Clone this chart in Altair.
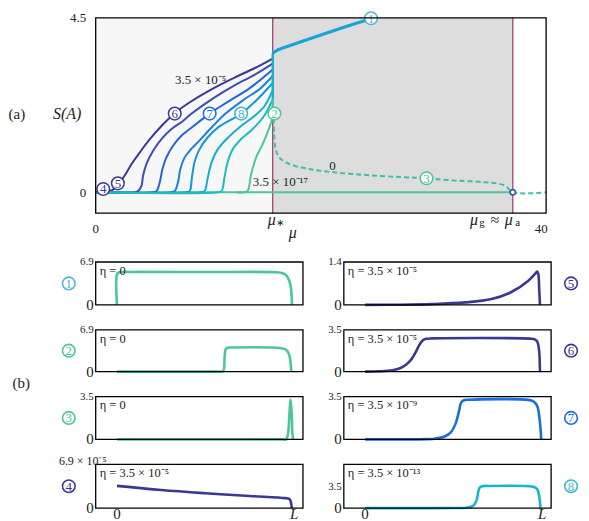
import altair as alt
import pandas as pd

FONT = "Liberation Serif"

# ---------------- top panel (a) data ----------------
mu_star = 15.72
mu_g = 37.04
mu_max = 40.0
s_merge = 3.59

curve_colors = ["#3b3894", "#3f4cb4", "#1f66d6", "#1b80da", "#1398d4", "#12aece", "#1cbcc0", "#4cc69e"]

c1_mu = [0.0, 1.0, 1.5, 2.0, 2.59, 3.19, 3.92, 4.81, 5.84, 7.02, 8.19, 10.56, 12.33, 14.10, 15.72]
c1_s = [0.0, 0.01, 0.06, 0.20, 0.44, 0.73, 1.03, 1.37, 1.71, 2.04, 2.29, 2.70, 2.96, 3.20, 3.45]
c2_mu = [0.0, 3.45, 3.77, 4.07, 4.21, 4.51, 5.10, 5.84, 6.73, 7.75, 8.52, 10.56, 12.33, 14.10, 15.72]
c2_s = [0.0, 0.0, 0.03, 0.17, 0.43, 0.73, 1.07, 1.37, 1.63, 1.84, 2.03, 2.45, 2.76, 3.03, 3.32]
c3_mu = [0.0, 5.1, 5.40, 5.69, 5.93, 6.28, 6.87, 7.61, 8.35, 10.12, 11.88, 13.65, 15.72]
c3_s = [0.0, 0.0, 0.03, 0.26, 0.60, 0.90, 1.20, 1.46, 1.63, 2.03, 2.36, 2.68, 3.17]
c4_mu = [0.0, 6.7, 7.02, 7.31, 7.52, 7.90, 8.35, 9.23, 10.29, 11.53, 13.21, 14.54, 15.72]
c4_s = [0.0, 0.0, 0.03, 0.26, 0.60, 0.90, 1.07, 1.34, 1.67, 2.03, 2.40, 2.66, 3.00]
c5_mu = [0.0, 8.0, 8.35, 8.55, 8.8, 9.2, 9.9, 10.9, 12.92, 14.36, 15.72]
c5_s = [0.0, 0.0, 0.03, 0.40, 0.80, 1.10, 1.40, 1.68, 2.03, 2.40, 2.82]
c6_mu = [0.0, 9.35, 9.67, 9.96, 10.29, 10.82, 11.71, 12.78, 14.10, 14.98, 15.72]
c6_s = [0.0, 0.0, 0.03, 0.39, 0.77, 1.10, 1.40, 1.68, 1.97, 2.22, 2.63]
c7_mu = [0.0, 10.85, 11.18, 11.44, 11.71, 12.15, 12.95, 13.83, 14.98, 15.72]
c7_s = [0.0, 0.0, 0.03, 0.39, 0.77, 1.10, 1.38, 1.60, 1.98, 2.40]
c8_mu = [12.5, 13.2, 13.5, 13.81, 14.25, 14.83, 15.42, 15.72]
c8_s = [0.0, 0.0, 0.04, 0.47, 0.90, 1.24, 1.67, 1.93]

branch1_mu = [15.72, 16.1, 16.6, 20.0, 24.2]
branch1_s = [3.59, 3.66, 3.72, 4.06, 4.46]

dash_mu = [15.8, 15.84, 15.95, 16.3, 17.19, 18.96, 21.33, 24.27, 27.22, 29.38, 31.95, 34.6, 36.37, 37.04, 40.0]
dash_s = [1.90, 1.55, 1.15, 0.90, 0.73, 0.60, 0.51, 0.44, 0.39, 0.36, 0.30, 0.26, 0.17, 0.0, 0.0]

circ_mu = [24.45, 15.87, 29.38, 0.67, 1.97, 7.02, 10.12, 12.92]
circ_s = [4.49, 2.03, 0.36, 0.085, 0.23, 2.03, 2.03, 2.03]
circ_txt = ["1", "2", "3", "4", "5", "6", "7", "8"]
circ_col = ["#4fb6d3", "#4cc49c", "#4cc49c", "#3b3894", "#3b3894", "#3b3894", "#1a6ee0", "#3db8cf"]

ann_mu = [9.32, 16.4, 21.03]
ann_s = [2.90, 0.26, 0.69]
ann_txt = ["3.5 × 10⁻⁵", "3.5 × 10⁻¹⁷", "0"]

W, H = 452, 196
XS = alt.Scale(domain=[0, mu_max], nice=False, zero=False)
YS = alt.Scale(domain=[-0.54, 4.5], nice=False, zero=False)
YAX = alt.Axis(values=[0, 4.5], format=".2~f", tickSize=0, domain=False, grid=False, labelPadding=10,
               labelFont=FONT, labelFontSize=13, labelColor="#222", title=None)
ONE = pd.DataFrame({"a": [0]})


def X(f="mu"):
    return alt.X(f"{f}:Q", scale=XS, axis=None)


def Y(f="S"):
    return alt.Y(f"{f}:Q", scale=YS, axis=YAX)


regions = pd.DataFrame({"a": [0.0, mu_star, mu_g], "b": [mu_star, mu_g, mu_max],
                        "c": ["#f7f7f7", "#dddddd", "#ffffff"]})
bg = alt.Chart(regions).mark_rect().encode(x=X("a"), x2="b:Q", y=alt.value(0), y2=alt.value(H),
                                           fill=alt.Fill("c:N", scale=None))
vlines = alt.Chart(pd.DataFrame({"mu": [mu_star, mu_g]})).mark_rule(color="#a3316b", strokeWidth=1.2).encode(
    x=X(), y=alt.value(0), y2=alt.value(H))

layers = [bg, vlines]

base_df = pd.DataFrame({"mu": [0.0, mu_g], "S": [0.0, 0.0]})
layers.append(alt.Chart(base_df).mark_line(color="#4cc69e", strokeWidth=2.2).encode(x=X(), y=Y()))


def curve(mus, ss, color, width=2.0, dash=None):
    d = pd.DataFrame({"mu": mus, "S": ss, "i": list(range(len(mus)))})
    kw = dict(color=color, strokeWidth=width, interpolate="catmull-rom")
    if dash:
        kw["strokeDash"] = dash
    return alt.Chart(d).mark_line(**kw).encode(x=X(), y=Y(), order="i:Q")


all_curves = [(c1_mu, c1_s), (c2_mu, c2_s), (c3_mu, c3_s), (c4_mu, c4_s), (c5_mu, c5_s),
              (c6_mu, c6_s), (c7_mu, c7_s), (c8_mu, c8_s)]
for (m, s), col in zip(all_curves, curve_colors):
    layers.append(curve(m, s, col))

vseg = pd.DataFrame({"mu": [mu_star, mu_star], "S": [c8_s[-1], c7_s[-1]], "S2": [c7_s[-1], s_merge],
                     "c": ["#4cc69e", "#14b0cc"]})
layers.append(alt.Chart(vseg).mark_rule(strokeWidth=2.4).encode(x=X(), y=Y(), y2="S2:Q",
                                                                 color=alt.Color("c:N", scale=None)))
layers.append(curve(branch1_mu, branch1_s, "#17a4d8", width=3.2))
layers.append(curve(dash_mu, dash_s, "#3cc0aa", width=2.0, dash=[5, 3]))

layers.append(alt.Chart(pd.DataFrame({"mu": [mu_g], "S": [0.0]})).mark_point(
    shape="circle", size=28, filled=True, fill="white", stroke="#3c64a0", strokeWidth=1.8, opacity=1).encode(
    x=X(), y=Y()))

cdf = pd.DataFrame({"mu": circ_mu, "S": circ_s, "t": circ_txt, "col": circ_col})
layers.append(alt.Chart(cdf).mark_point(shape="circle", size=160, filled=True, fill="white",
                                        strokeWidth=1.5, opacity=1).encode(
    x=X(), y=Y(), stroke=alt.Stroke("col:N", scale=None)))
layers.append(alt.Chart(cdf).mark_text(font=FONT, fontSize=13, baseline="middle", dy=0.5).encode(
    x=X(), y=Y(), text="t:N", color=alt.Color("col:N", scale=None)))

adf = pd.DataFrame({"mu": ann_mu, "S": ann_s, "t": ann_txt})
layers.append(alt.Chart(adf).mark_text(font=FONT, fontSize=13, baseline="middle", color="#222").encode(
    x=X(), y=Y(), text="t:N"))

layers.append(alt.Chart(ONE).mark_rect(fill="transparent", stroke="black", strokeWidth=1.3).encode(
    x=alt.value(0), x2=alt.value(W), y=alt.value(0), y2=alt.value(H)))

# x labels below the plot
xl = pd.DataFrame({"mu": [0.0, mu_max], "t": ["0", "40"], "dx": [0, -5]})
for _, r in xl.iterrows():
    layers.append(alt.Chart(pd.DataFrame({"mu": [r["mu"]], "t": [r["t"]]})).mark_text(
        font=FONT, fontSize=13, baseline="middle", color="#222", dx=float(r["dx"])).encode(
        x=X(), y=alt.value(H + 16), text="t:N"))
mu_pieces = pd.DataFrame({
    "mu": [mu_star, mu_star, mu_g, mu_g, mu_g, mu_g, mu_g, 17.49],
    "t": ["μ", "∗", "μ", "g", "≈", "μ", "a", "μ"],
    "dx": [-1, 7, -39, -31, -18, -4, 5, 0],
    "dy": [7, 10, 7, 10, 7, 7, 10, 20],
    "s": [16, 10, 16, 11, 16, 16, 11, 16],
})
for _, r in mu_pieces.iterrows():
    layers.append(alt.Chart(pd.DataFrame({"mu": [r["mu"]], "t": [r["t"]]})).mark_text(
        font=FONT, fontSize=float(r["s"]), baseline="middle", color="#222", dx=float(r["dx"]),
        fontStyle="italic" if r["t"] == "μ" else "normal").encode(
        x=X(), y=alt.value(H + float(r["dy"])), text="t:N"))

layers.append(alt.Chart(ONE).mark_text(font=FONT, fontSize=16, fontStyle="italic", text="S(A)",
                                       baseline="middle", color="#222").encode(
    x=alt.value(-28.7), y=alt.value(96)))
layers.append(alt.Chart(ONE).mark_text(font=FONT, fontSize=15, text="(a)", align="left",
                                       baseline="middle", color="#222").encode(
    x=alt.value(-87.4), y=alt.value(96)))

top = alt.layer(*layers).properties(width=W, height=H)

# ---------------- bottom panels (b) data ----------------
p1_x = [0.0, 0.0, 0.01, 0.03, 0.5, 0.9, 0.935, 0.956, 0.972, 0.98, 0.985, 0.988]
p1_y = [0.0, 4.9, 5.22, 5.28, 5.28, 5.25, 5.1, 4.75, 3.9, 3.1, 1.8, 0.0]
p2_x = [0.0, 0.3, 0.58, 0.595, 0.603, 0.608, 0.614, 0.625, 0.65, 0.9, 0.93, 0.955, 0.972, 0.98, 0.984]
p2_y = [0.0, 0.0, 0.0, 0.0, 0.3, 2.5, 3.7, 3.93, 3.97, 3.95, 3.85, 3.6, 2.8, 1.5, 0.0]
p3_x = [0.0, 0.5, 0.93, 0.955, 0.966, 0.974, 0.98, 0.986, 0.99, 0.994]
p3_y = [0.0, 0.0, 0.0, 0.0, 0.5, 2.2, 3.25, 2.2, 0.6, 0.0]
p4_x = [0.0, 0.25, 0.5, 0.75, 0.95, 0.97, 0.978, 0.984, 0.987]
p4_y = [3.5e-5, 2.85e-5, 2.35e-5, 1.92e-5, 1.58e-5, 1.48e-5, 1.3e-5, 0.6e-5, 0.0]
p5_x = [0.0, 0.2, 0.378, 0.565, 0.714, 0.826, 0.92, 0.965, 0.972, 0.978, 0.983, 0.987]
p5_y = [0.0, 0.005, 0.025, 0.08, 0.19, 0.42, 0.78, 1.05, 1.09, 1.0, 0.5, 0.0]
p6_x = [0.0, 0.08, 0.154, 0.2, 0.229, 0.26, 0.285, 0.305, 0.325, 0.345, 0.38, 0.93, 0.958, 0.972, 0.982, 0.987]
p6_y = [0.0, 0.03, 0.12, 0.3, 0.55, 1.0, 1.6, 2.2, 2.6, 2.74, 2.78, 2.76, 2.7, 2.5, 1.8, 0.0]
p7_x = [0.0, 0.2, 0.35, 0.395, 0.449, 0.485, 0.512, 0.53, 0.542, 0.557, 0.584, 0.92, 0.95, 0.972, 0.987, 0.994]
p7_y = [0.0, 0.0, 0.02, 0.06, 0.24, 0.6, 1.33, 2.3, 3.0, 3.2, 3.24, 3.23, 3.1, 2.7, 1.38, 0.0]
p8_x = [0.0, 0.3, 0.5, 0.58, 0.61, 0.628, 0.638, 0.645, 0.66, 0.7, 0.92, 0.95, 0.972, 0.984, 0.99]
p8_y = [0.0, 0.0, 0.02, 0.1, 0.4, 1.2, 2.6, 3.4, 3.7, 3.75, 3.72, 3.6, 3.2, 1.8, 0.0]

GREEN, INDIGO, BLUE, CYAN = "#4cc69e", "#3b3894", "#1a6ee0", "#16b6d2"

XB = alt.Scale(domain=[-0.12, 1.05], nice=False, zero=False)
PW = 208


def panel(xs, ys, color, y_top, tick_vals, tick_txt, tick_sz, eta, num, num_color, side, h,
          bottom=False, extra_top=None, blabel=False):
    ysc = alt.Scale(domain=[0, y_top], nice=False, zero=False)
    d = pd.DataFrame({"x": xs, "y": ys, "i": list(range(len(xs)))})
    L = [alt.Chart(d).mark_line(color=color, strokeWidth=2.6, interpolate="catmull-rom").encode(
        x=alt.X("x:Q", scale=XB, axis=None), y=alt.Y("y:Q", scale=ysc, axis=None), order="i:Q")]
    L.append(alt.Chart(ONE).mark_rect(fill="transparent", stroke="black", strokeWidth=1.3).encode(
        x=alt.value(0), x2=alt.value(PW), y=alt.value(0), y2=alt.value(h)))
    tk = pd.DataFrame({"v": tick_vals, "t": tick_txt, "s": tick_sz})
    L.append(alt.Chart(tk).mark_text(align="right", baseline="middle", font=FONT, color="#222").encode(
        x=alt.value(-2), y=alt.Y("v:Q", scale=ysc, axis=None), text="t:N", size=alt.Size("s:Q", scale=None)))
    if extra_top:
        L.append(alt.Chart(ONE).mark_text(align="right", baseline="middle", font=FONT, fontSize=12,
                                          color="#222", text=extra_top).encode(
            x=alt.value(11), y=alt.value(-3)))
    L.append(alt.Chart(ONE).mark_text(align="left", baseline="middle", font=FONT, fontSize=12.5,
                                      color="#222", text=eta).encode(x=alt.value(4), y=alt.value(9)))
    cx = -27 if side == "left" else PW + 20
    L.append(alt.Chart(ONE).mark_point(shape="circle", size=160, filled=True, fill="white",
                                       stroke=num_color, strokeWidth=1.6, opacity=1).encode(
        x=alt.value(cx), y=alt.value(h / 2)))
    L.append(alt.Chart(ONE).mark_text(font=FONT, fontSize=13, color=num_color, text=num,
                                      baseline="middle", dy=0.5).encode(x=alt.value(cx), y=alt.value(h / 2)))
    if bottom:
        L.append(alt.Chart(pd.DataFrame({"x": [0.0]})).mark_text(
            font=FONT, fontSize=15, text="0", baseline="middle", color="#222").encode(
            x=alt.X("x:Q", scale=XB, axis=None), y=alt.value(h + 6)))
        L.append(alt.Chart(pd.DataFrame({"x": [1.0]})).mark_text(
            font=FONT, fontSize=15, text="L", fontStyle="italic", baseline="middle", color="#222").encode(
            x=alt.X("x:Q", scale=XB, axis=None), y=alt.value(h + 6)))
    if blabel:
        L.append(alt.Chart(ONE).mark_text(font=FONT, fontSize=15, text="(b)", baseline="middle",
                                          color="#222").encode(x=alt.value(-74.7), y=alt.value(h + 11)))
    return alt.layer(*L).properties(width=PW, height=h)


p1 = panel(p1_x, p1_y, GREEN, 6.9, [0, 6.9], ["0", "6.9"], [15, 11], "η = 0", "1", "#4fb6d3", "left", 43)
p2 = panel(p2_x, p2_y, GREEN, 6.9, [0, 6.9], ["0", "6.9"], [15, 11], "η = 0", "2", "#4cc49c", "left", 42,
           blabel=True)
p3 = panel(p3_x, p3_y, GREEN, 3.5, [0, 3.5], ["0", "3.5"], [15, 11], "η = 0", "3", "#4cc49c", "left", 43)
p4 = panel(p4_x, p4_y, INDIGO, 6.9e-5, [0], ["0"], [15], "η = 3.5 × 10⁻⁵", "4", INDIGO, "left", 44,
           bottom=True, extra_top="6.9 × 10⁻⁵")
p5 = panel(p5_x, p5_y, INDIGO, 1.4, [0, 1.4], ["0", "1.4"], [15, 11], "η = 3.5 × 10⁻⁵", "5", INDIGO, "right", 43)
p6 = panel(p6_x, p6_y, INDIGO, 3.5, [0, 3.5], ["0", "3.5"], [15, 11], "η = 3.5 × 10⁻⁵", "6", INDIGO, "right", 42)
p7 = panel(p7_x, p7_y, BLUE, 3.5, [0, 3.5], ["0", "3.5"], [15, 11], "η = 3.5 × 10⁻⁹", "7", BLUE, "right", 43)
p8 = panel(p8_x, p8_y, CYAN, 7.4, [0, 3.5], ["0", "3.5"], [15, 11], "η = 3.5 × 10⁻¹³", "8", "#3db8cf", "right", 44,
           bottom=True)

grid = alt.concat(p1, p5, p2, p6, p3, p7, p4, p8, columns=2,
                  spacing=alt.RowColnumber(row=25, column=41), bounds="flush")

chart = alt.vconcat(top, grid, spacing=49, bounds="flush").properties(padding=0).configure_view(strokeWidth=0)

chart.save("out.html", embed_options={"renderer": "svg", "actions": False})
